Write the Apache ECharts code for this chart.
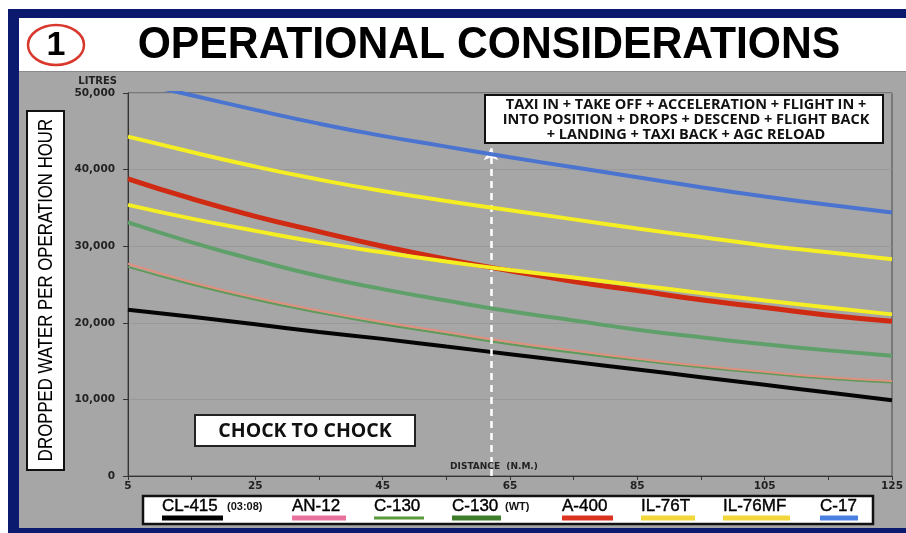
<!DOCTYPE html>
<html><head><meta charset="utf-8">
<script src="https://cdn.jsdelivr.net/npm/echarts@6/dist/echarts.min.js"></script>
<style>html,body{margin:0;padding:0;background:#fff;}#c{width:906px;height:533px;}</style>
</head><body><div id="c"></div>
<script>
// ---- data ----
const distances = [5, 15, 25, 35, 45, 55, 65, 75, 85, 95, 105, 115, 125];
const cl415   = [21700, 20800, 19800, 18800, 17900, 16900, 15900, 14900, 13900, 12900, 11900, 10900, 9900];
const an12    = [27700, 25300, 23300, 21600, 20100, 18800, 17500, 16400, 15300, 14400, 13600, 12900, 12400];
const c130    = [27300, 25000, 23000, 21300, 19800, 18500, 17200, 16100, 15100, 14200, 13400, 12700, 12200];
const c130wt  = [33100, 30500, 28200, 26100, 24400, 22900, 21500, 20300, 19100, 18100, 17200, 16400, 15700];
const a400    = [38800, 36200, 33900, 31900, 30000, 28300, 26800, 25400, 24200, 23000, 22000, 21000, 20200];
const il76t   = [35400, 33600, 32000, 30500, 29200, 28000, 26900, 25900, 24900, 23900, 22900, 22000, 21100];
const il76mf  = [44300, 42300, 40400, 38700, 37200, 35900, 34700, 33500, 32300, 31200, 30100, 29200, 28300];
const c17     = [51600, 49700, 47800, 46000, 44400, 43000, 41600, 40300, 39000, 37700, 36500, 35400, 34400];
const legendNames   = ['CL-415', 'AN-12', 'C-130', 'C-130', 'A-400', 'IL-76T', 'IL-76MF', 'C-17'];
const legendSuffix  = ['(03:08)', '', '', '(WT)', '', '', '', ''];
const arrowDistance = 62;
const arrowTop = 42800;
const titleText = 'OPERATIONAL CONSIDERATIONS';
const yTitle = 'DROPPED WATER PER OPERATION HOUR';
const xTitle = 'DISTANCE  (N.M.)';
const yUnit = 'LITRES';
const noteLines = ['TAXI IN + TAKE OFF + ACCELERATION + FLIGHT IN +', 'INTO POSITION + DROPS + DESCEND + FLIGHT BACK', '+ LANDING + TAXI BACK + AGC RELOAD'];
const chockText = 'CHOCK TO CHOCK';

// ---- styles ----
const seriesDefs = [
  {name: 'CL-415', data: cl415, color: '#050505', width: 4},
  {name: 'C-130', data: c130, color: '#5f9a58', width: 2},
  {name: 'AN-12', data: an12, color: '#e0907e', width: 2},
  {name: 'C-130 (WT)', data: c130wt, color: '#5fa06a', width: 4},
  {name: 'A-400', data: a400, color: '#d02a12', width: 5},
  {name: 'IL-76T', data: il76t, color: '#f4ee22', width: 4},
  {name: 'IL-76MF', data: il76mf, color: '#f4ee22', width: 4},
  {name: 'C-17', data: c17, color: '#4a74d0', width: 4}
];
const swatchColors = ['#000000', '#e8729d', '#5a9a3c', '#3d7d2c', '#dc3220', '#f2d63a', '#f2d63a', '#4a80e2'];
const swatchHeights = [5, 5, 3, 5, 5, 5, 5, 5];
const legendLayout = [[162, 61], [292, 54], [374, 50], [452, 49], [562, 51], [641, 54], [723, 67], [820, 38]];

const chart = echarts.init(document.getElementById('c'));

const series = seriesDefs.map((s, i) => ({
  name: s.name, type: 'line', smooth: true, showSymbol: false, symbol: 'none',
  data: distances.map((d, j) => [d, s.data[j]]),
  lineStyle: {color: s.color, width: s.width},
  itemStyle: {color: s.color},
  z: 2 + i
}));
series.push({
  type: 'line', data: [], z: 20,
  markLine: {
    silent: true, symbol: ['none', 'arrow'], symbolSize: [11, 12], animation: false,
    label: {show: false},
    lineStyle: {color: '#ffffff', type: [7, 5], width: 2.5, opacity: 1},
    data: [[{coord: [arrowDistance, 0]}, {coord: [arrowDistance, arrowTop]}]]
  }
});

const g = [];
// frame
g.push({type: 'rect', shape: {x: 8, y: 9, width: 898, height: 9}, style: {fill: '#0b1a6e'}, z: 0});
g.push({type: 'rect', shape: {x: 8, y: 9, width: 11, height: 524}, style: {fill: '#0b1a6e'}, z: 0});
g.push({type: 'rect', shape: {x: 8, y: 528, width: 898, height: 5}, style: {fill: '#0b1a6e'}, z: 0});
g.push({type: 'rect', shape: {x: 0, y: 0, width: 906, height: 9}, style: {fill: '#ffffff'}, z: 0});
g.push({type: 'rect', shape: {x: 0, y: 0, width: 8, height: 533}, style: {fill: '#ffffff'}, z: 0});
g.push({type: 'rect', shape: {x: 19, y: 18, width: 887, height: 54}, style: {fill: '#ffffff'}, z: 0});
g.push({type: 'rect', shape: {x: 19, y: 71, width: 887, height: 1}, style: {fill: '#8a8a8a'}, z: 0});
// title
g.push({type: 'ellipse', shape: {cx: 56, cy: 45, rx: 28, ry: 20}, style: {fill: null, stroke: '#d8382c', lineWidth: 2.5}, z: 1});
g.push({type: 'text', style: {text: '1', x: 56, y: 46, font: 'bold 34px "Liberation Sans", Arial, sans-serif', fill: '#000', textAlign: 'center', textVerticalAlign: 'middle'}, z: 1});
g.push({type: 'text', x: 489, y: 46, scaleX: 0.97, style: {text: titleText, x: 0, y: 0, font: 'bold 44px "Liberation Sans", Arial, sans-serif', fill: '#000', textAlign: 'center', textVerticalAlign: 'middle'}, z: 1});
// y title
g.push({type: 'rect', shape: {x: 27, y: 111, width: 37, height: 359}, style: {fill: '#fff', stroke: '#111', lineWidth: 2}, z: 1});
g.push({type: 'text', rotation: Math.PI / 2, x: 46, y: 290, scaleX: 0.8, style: {text: yTitle, x: 0, y: 0, font: '21px "Liberation Sans", Arial, sans-serif', fill: '#000', textAlign: 'center', textVerticalAlign: 'middle'}, z: 1});
g.push({type: 'text', style: {text: yUnit, x: 117, y: 81, font: 'bold 10px "DejaVu Sans", Verdana, sans-serif', fill: '#222', textAlign: 'right', textVerticalAlign: 'middle'}, z: 1});
g.push({type: 'text', style: {text: xTitle, x: 494, y: 467, font: 'bold 9px "DejaVu Sans", Verdana, sans-serif', fill: '#222', textAlign: 'center', textVerticalAlign: 'middle'}, z: 30});
// note box
g.push({type: 'rect', shape: {x: 485, y: 95, width: 398, height: 48}, style: {fill: '#fff', stroke: '#111', lineWidth: 2}, z: 30});
noteLines.forEach((t, i) => {
  g.push({type: 'text', style: {text: t, x: 686, y: 105 + i * 15, font: 'bold 14.5px "Open Sans", sans-serif', fill: '#111', textAlign: 'center', textVerticalAlign: 'middle'}, z: 31});
});
// chock box
g.push({type: 'rect', shape: {x: 195, y: 415, width: 220, height: 31}, style: {fill: '#fff', stroke: '#222', lineWidth: 2}, z: 30});
g.push({type: 'text', style: {text: chockText, x: 305, y: 431, font: 'bold 19.5px "Open Sans", sans-serif', fill: '#111', textAlign: 'center', textVerticalAlign: 'middle'}, z: 31});
// legend
g.push({type: 'rect', shape: {x: 143, y: 496, width: 730, height: 28}, style: {fill: '#fff', stroke: '#111', lineWidth: 2.5}, z: 30});
legendNames.forEach((n, i) => {
  const [lx, lw] = legendLayout[i];
  g.push({type: 'text', style: {text: n, x: lx, y: 506, font: '17px "Liberation Sans", Arial, sans-serif', fill: '#000', stroke: '#000', lineWidth: 0.4, textAlign: 'left', textVerticalAlign: 'middle'}, z: 31});
  if (legendSuffix[i]) {
    g.push({type: 'text', style: {text: legendSuffix[i], x: lx + lw + 4, y: 507, font: 'bold 11px "Liberation Sans", Arial, sans-serif', fill: '#111', textAlign: 'left', textVerticalAlign: 'middle'}, z: 31});
  }
  const h = swatchHeights[i];
  g.push({type: 'rect', shape: {x: lx, y: 518 - h / 2, width: lw, height: h}, style: {fill: swatchColors[i]}, z: 31});
});

chart.setOption({
  animation: false,
  backgroundColor: '#a6a6a6',
  grid: {left: 128, right: 14, top: 93, bottom: 57, show: true, borderColor: '#4a4a4a', borderWidth: 1, backgroundColor: 'transparent'},
  xAxis: {
    type: 'value', min: 5, max: 125, interval: 10,
    axisLine: {lineStyle: {color: '#333', width: 1}},
    axisTick: {show: true, length: 4, lineStyle: {color: '#333'}},
    splitLine: {show: false},
    axisLabel: {
      margin: 5, color: '#222', fontFamily: 'DejaVu Sans', fontWeight: 'bold', fontSize: 10.5,
      formatter: v => ((v - 5) % 20 === 0 ? String(v) : '')
    }
  },
  yAxis: {
    type: 'value', min: 0, max: 50000, interval: 10000,
    axisLine: {show: true, lineStyle: {color: '#333', width: 1}},
    axisTick: {show: true, length: 5, lineStyle: {color: '#333'}},
    splitLine: {show: true, lineStyle: {color: '#999999', width: 1}},
    axisLabel: {
      margin: 13, color: '#222', fontFamily: 'DejaVu Sans', fontWeight: 'bold', fontSize: 10.5,
      formatter: v => echarts.format.addCommas(v)
    }
  },
  graphic: g,
  series: series
});
</script></body></html>
